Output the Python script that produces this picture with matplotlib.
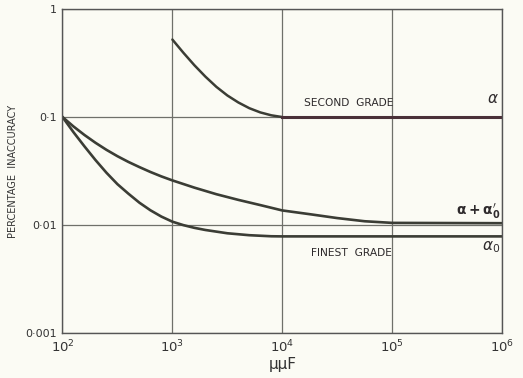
import matplotlib
matplotlib.use("Agg")
import matplotlib.pyplot as plt

BG = "#fbfbf4"
INK = "#3b3d35"
GRID = "#6f706a"
DARK = "#4a3038"

# second grade, alpha
alpha_x = [1000, 1259, 1585, 1995, 2512, 3162, 3981, 5012, 6310, 7943, 1.0e4, 1.0e6]
alpha_y = [0.522, 0.394, 0.302, 0.237, 0.1905, 0.1585, 0.1365, 0.1208, 0.1104,
           0.1038, 0.1, 0.1]

# alpha + alpha0'
sum_x = [100, 125.9, 158.5, 199.5, 251.2, 316.2, 398.1, 501.2, 631, 794.3, 1000,
         1585, 2512, 3981, 6310, 1e4, 17780, 31620, 56230, 1e5, 1e6]
sum_y = [0.1, 0.0818, 0.0682, 0.0578, 0.0497, 0.0434, 0.0384, 0.0344, 0.0310,
         0.0282, 0.0259, 0.0222, 0.0193, 0.0171, 0.0153, 0.01365, 0.0126,
         0.0116, 0.01084, 0.01047, 0.0104]

# finest grade, alpha0
fine_x = [100, 125.9, 158.5, 199.5, 251.2, 316.2, 398.1, 501.2, 631, 794.3, 1000,
          1259, 1585, 1995, 3162, 5012, 7943, 1e4, 1e6]
fine_y = [0.1, 0.0724, 0.0535, 0.0400, 0.0305, 0.0239, 0.0195, 0.0161, 0.0137,
          0.01197, 0.01074, 0.00998, 0.00942, 0.00900, 0.00839, 0.00805,
          0.00787, 0.00785, 0.00785]

x_ticks = [1e2, 1e3, 1e4, 1e5, 1e6]
x_labels = ["10$^2$", "10$^3$", "10$^4$", "10$^5$", "10$^6$"]
y_ticks = [1e-3, 1e-2, 1e-1, 1]
y_labels = ["0\u00b7001", "0\u00b701", "0\u00b71", "1"]

fig = plt.figure(figsize=(5.23, 3.78), dpi=100, facecolor=BG)
ax = fig.add_axes([0.1195, 0.119, 0.8405, 0.857])
ax.set_facecolor(BG)
ax.set_xscale("log")
ax.set_yscale("log")
ax.set_xlim(1e2, 1e6)
ax.set_ylim(1e-3, 1)

ax.set_xticks(x_ticks)
ax.set_xticklabels(x_labels)
ax.set_yticks(y_ticks)
ax.set_yticklabels(y_labels)
ax.minorticks_off()
ax.tick_params(length=0, colors="#333333")
ax.tick_params(axis="x", labelsize=9.5, pad=4)
ax.tick_params(axis="y", labelsize=8, pad=4)
ax.grid(True, color=GRID, linewidth=0.9)
for s in ax.spines.values():
    s.set_color("#555555")
    s.set_linewidth(1.0)

n = alpha_x.index(1.0e4)
ax.plot(alpha_x[:n + 1], alpha_y[:n + 1], color=INK, linewidth=1.8, solid_capstyle="round")
ax.plot(alpha_x[n:], alpha_y[n:], color=DARK, linewidth=2.2)
ax.plot(sum_x, sum_y, color=INK, linewidth=1.9)
ax.plot(fine_x, fine_y, color=INK, linewidth=1.9)

txt = dict(color="#2e2a2c", fontsize=7.7)
ax.text(4.0e4, 0.136, "SECOND  GRADE", ha="center", va="center", **txt)
ax.text(4.3e4, 0.0055, "FINEST  GRADE", ha="center", va="center", **txt)
ax.text(9.3e5, 0.15, r"$\alpha$", ha="right", va="center", color="#2e2a2c", fontsize=11)
ax.text(9.6e5, 0.0135, r"$\mathbf{\alpha+\alpha_0^{\prime}}$", ha="right", va="center", color="#2e2a2c", fontsize=10)
ax.text(9.6e5, 0.0062, r"$\alpha_0$", ha="right", va="center", color="#2e2a2c", fontsize=11)

ax.set_xlabel("\u03bc\u03bcF", fontsize=11, color="#333333", labelpad=1)
ax.set_ylabel("PERCENTAGE  INACCURACY", fontsize=7, color="#333333", labelpad=5)

fig.savefig("out.png", dpi=100, facecolor=BG)
